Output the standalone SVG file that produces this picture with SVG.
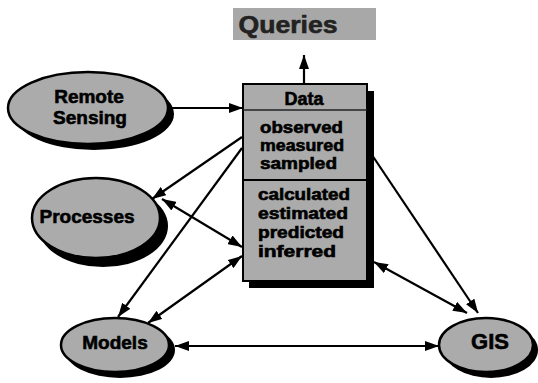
<svg xmlns="http://www.w3.org/2000/svg" width="538" height="383" viewBox="0 0 538 383">
<style>
.lbl{font-family:"Liberation Sans",Arial,sans-serif;font-weight:bold;fill:#000;stroke:#000;stroke-width:0.6;}
.fill{fill:#ababab;stroke:#000;stroke-width:2.5;}
.shadow{fill:#000;}
.ln{stroke:#000;stroke-width:2.2;fill:none;}
</style>
<defs>
<marker id="ah" viewBox="0 0 14 10" refX="14" refY="5" markerWidth="14" markerHeight="10" markerUnits="userSpaceOnUse" orient="auto-start-reverse">
<path d="M0,0 L14,5 L0,10 Z" fill="#000"/>
</marker>
</defs>
<rect width="538" height="383" fill="#fff"/>

<g id="queries">
<rect x="233" y="8" width="143" height="32" fill="#a8a8a8"/>
<text class="lbl" x="288" y="33" font-size="24" text-anchor="middle" textLength="99" lengthAdjust="spacingAndGlyphs" style="fill:#222;stroke:#222">Queries</text>
</g>

<g id="remote-sensing">
<ellipse class="shadow" cx="94" cy="114" rx="80" ry="36"/>
<ellipse class="fill" cx="88" cy="108" rx="80" ry="36"/>
<text class="lbl" x="89" y="103" font-size="19" text-anchor="middle">Remote</text>
<text class="lbl" x="90" y="124" font-size="19" text-anchor="middle">Sensing</text>
</g>

<g id="processes">
<ellipse class="shadow" cx="103" cy="226" rx="65" ry="41"/>
<ellipse class="fill" cx="96" cy="218" rx="64" ry="40"/>
<text class="lbl" x="87" y="223" font-size="19" text-anchor="middle">Processes</text>
</g>

<g id="models">
<ellipse class="shadow" cx="120" cy="350" rx="55" ry="28"/>
<ellipse class="fill" cx="115" cy="345" rx="54" ry="27"/>
<text class="lbl" x="115" y="349" font-size="19" text-anchor="middle">Models</text>
</g>

<g id="gis">
<ellipse class="shadow" cx="491" cy="350" rx="47" ry="28"/>
<ellipse class="fill" cx="486" cy="345" rx="47" ry="27"/>
<text class="lbl" x="490" y="349" font-size="22" text-anchor="middle">GIS</text>
</g>

<g id="data">
<rect class="shadow" x="249" y="91" width="125" height="197"/>
<rect x="243" y="84" width="124" height="197" fill="#ababab" stroke="#000" stroke-width="2"/>
<line x1="243" y1="110" x2="367" y2="110" stroke="#222" stroke-width="1.5"/>
<line x1="243" y1="180" x2="367" y2="180" stroke="#000" stroke-width="2"/>
<text class="lbl" x="304" y="105" font-size="18" text-anchor="middle">Data</text>
<text class="lbl" x="260" y="133" font-size="16" textLength="83" lengthAdjust="spacingAndGlyphs">observed</text>
<text class="lbl" x="260" y="151" font-size="16" textLength="84" lengthAdjust="spacingAndGlyphs">measured</text>
<text class="lbl" x="260" y="169" font-size="16" textLength="77" lengthAdjust="spacingAndGlyphs">sampled</text>
<text class="lbl" x="258" y="200" font-size="16" textLength="92" lengthAdjust="spacingAndGlyphs">calculated</text>
<text class="lbl" x="258" y="219" font-size="16" textLength="90" lengthAdjust="spacingAndGlyphs">estimated</text>
<text class="lbl" x="258" y="238" font-size="16" textLength="86" lengthAdjust="spacingAndGlyphs">predicted</text>
<text class="lbl" x="258" y="257" font-size="16" textLength="78" lengthAdjust="spacingAndGlyphs">inferred</text>
</g>

<g id="connectors">
<line class="ln" x1="304" y1="84" x2="304" y2="55" marker-end="url(#ah)"/>
<line class="ln" x1="170" y1="108" x2="243" y2="108" marker-end="url(#ah)"/>
<line class="ln" x1="242" y1="137" x2="152" y2="199" marker-end="url(#ah)" stroke-width="3"/>
<line class="ln" x1="242" y1="148" x2="118" y2="317" marker-end="url(#ah)"/>
<line class="ln" x1="162" y1="199" x2="242" y2="247" marker-start="url(#ah)" marker-end="url(#ah)"/>
<line class="ln" x1="148" y1="323" x2="242" y2="256" marker-start="url(#ah)" marker-end="url(#ah)"/>
<line class="ln" x1="175" y1="346" x2="439" y2="346" marker-start="url(#ah)" marker-end="url(#ah)"/>
<line class="ln" x1="372" y1="155" x2="478" y2="313" marker-end="url(#ah)"/>
<line class="ln" x1="374" y1="262" x2="467" y2="313" marker-start="url(#ah)" marker-end="url(#ah)"/>
</g>
</svg>
